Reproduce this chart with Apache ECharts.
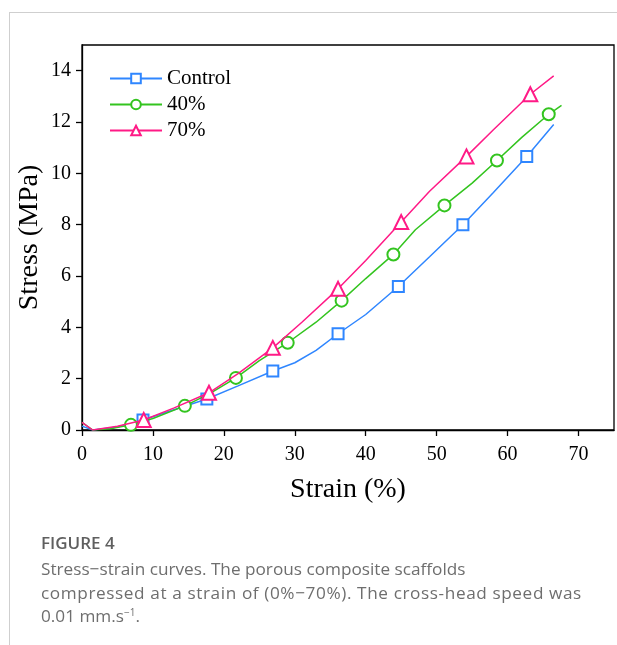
<!DOCTYPE html>
<html>
<head>
<meta charset="utf-8">
<script src="https://cdn.jsdelivr.net/npm/echarts@6/dist/echarts.min.js"></script>
<style>
  html, body { margin: 0; padding: 0; background: #fff; }
  #page { position: relative; width: 617px; height: 645px; overflow: hidden; }
  #frame { position: absolute; left: 9px; top: 12px; right: 0; bottom: 0;
           border-left: 1px solid #cfcfcf; border-top: 1px solid #cfcfcf; }
  #chart { position: absolute; left: 0; top: 0; width: 617px; height: 645px; }
  #caption { position: absolute; left: 41px; top: 532px; width: 576px;
             font-family: "Open Sans", sans-serif; color: #6e6e6e; white-space: nowrap; }
  #caption .fig { font-size: 17px; font-weight: 600; color: #5f5f5f; line-height: 22px; }
  #caption .txt { font-size: 17.2px; line-height: 23.5px; margin-top: 3px; }
  #caption .l2 { letter-spacing: 0.6px; }
  sup { font-size: 10px; vertical-align: 6px; line-height: 0; }
</style>
</head>
<body>
<div id="page">
  <div id="frame"></div>
  <div id="chart"></div>
  <div id="caption">
    <div class="fig">FIGURE 4</div>
    <div class="txt">Stress−strain curves. The porous composite scaffolds<br><span class="l2">compressed at a strain of (0%−70%). The cross-head speed was</span><br>0.01 mm.s<sup>−1</sup>.</div>
  </div>
</div>
<script>
// strain (%), stress (MPa)
const seriesNames = ["Control", "40%", "70%"];

const controlCurve = [[0, 0.15], [1.5, 0], [5, 0.12], [12, 0.7], [22, 1.72], [30, 2.62],
  [33, 3.1], [40, 4.5], [49, 6.75], [58, 9.25], [66.5, 11.9]];
const controlMarkers = [[8.6, 0.39], [17.6, 1.21], [26.9, 2.3], [36.1, 3.75], [44.6, 5.59],
  [53.7, 8.0], [62.7, 10.66]];

const p40Curve = [[0, 0.3], [1.5, 0], [4, 0.05], [10, 0.45], [18, 1.42], [25, 2.7],
  [33, 4.2], [40, 5.9], [47, 7.8], [55, 9.62], [62, 11.4], [67.6, 12.65]];
const p40Markers = [[6.9, 0.2], [14.5, 0.94], [21.7, 2.03], [29, 3.4], [36.6, 5.04],
  [43.9, 6.84], [51.1, 8.75], [58.5, 10.5], [65.8, 12.3]];

const p70Curve = [[0, 0.3], [1.5, 0], [5, 0.15], [13, 0.86], [22, 2.2], [31, 4.2],
  [40, 6.6], [49, 9.3], [58, 11.7], [66.5, 13.8]];
const p70Markers = [[8.7, 0.39], [17.9, 1.45], [26.9, 3.2], [36.1, 5.5], [45, 8.1],
  [54.2, 10.66], [63.2, 13.08]];

const xTicks = [0, 10, 20, 30, 40, 50, 60, 70];
const yTicks = [0, 2, 4, 6, 8, 10, 12, 14];

const colors = ["#2f86ff", "#33c41f", "#ff1a86"];
const symbols = ["emptyRect", "emptyCircle", "emptyTriangle"];
const sizes = [11, 12, 14];

function merge(curve, markers) {
  const pts = curve.map(p => ({ value: p, symbol: "none" }))
    .concat(markers.map(p => ({ value: p })));
  pts.sort((a, b) => a.value[0] - b.value[0]);
  return pts;
}

const serif = "'Liberation Serif', 'Times New Roman', serif";
const chart = echarts.init(document.getElementById("chart"));
const datasets = [merge(controlCurve, controlMarkers), merge(p40Curve, p40Markers), merge(p70Curve, p70Markers)];

chart.setOption({
  animation: false,
  grid: {
    left: 82, top: 45, right: 3, bottom: 215,
    outerBoundsMode: "none", containLabel: false,
    show: true, borderColor: "#000", borderWidth: 1.3, backgroundColor: "transparent"
  },
  legend: {
    orient: "vertical",
    left: 104, top: 63,
    itemWidth: 52, itemHeight: 12, itemGap: 5,
    textStyle: { fontFamily: serif, fontSize: 21, color: "#000" },
    data: seriesNames
  },
  xAxis: {
    type: "value", min: 0, max: 75,
    name: "Strain (%)", nameLocation: "middle", nameGap: 46, nameMoveOverlap: false,
    nameTextStyle: { fontFamily: serif, fontSize: 28, color: "#000" },
    axisLine: { lineStyle: { color: "#000", width: 1.3 } },
    axisTick: { show: true, length: 6, customValues: xTicks, lineStyle: { color: "#000", width: 1.3 } },
    axisLabel: { customValues: xTicks, fontFamily: serif, fontSize: 20, color: "#000", margin: 15 },
    splitLine: { show: false }
  },
  yAxis: {
    type: "value", min: 0, max: 15,
    name: "Stress (MPa)", nameLocation: "middle", nameGap: 38, nameMoveOverlap: false,
    nameTextStyle: { fontFamily: serif, fontSize: 28, color: "#000" },
    axisLine: { lineStyle: { color: "#000", width: 1.3 } },
    axisTick: { show: true, length: 6, customValues: yTicks, lineStyle: { color: "#000", width: 1.3 } },
    axisLabel: { customValues: yTicks, fontFamily: serif, fontSize: 20, color: "#000", margin: 11 },
    splitLine: { show: false }
  },
  series: seriesNames.map((name, i) => ({
    name: name,
    type: "line",
    data: datasets[i],
    symbol: symbols[i],
    symbolSize: sizes[i],
    showSymbol: true,
    color: colors[i],
    itemStyle: { color: colors[i], borderWidth: 1.5 },
    lineStyle: { color: colors[i], width: 1.5 },
    z: 2 + i
  }))
});
</script>
</body>
</html>
